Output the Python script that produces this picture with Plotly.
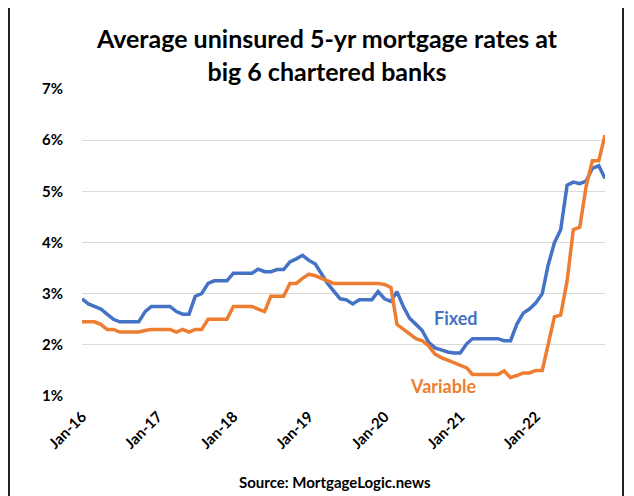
import pandas as pd
import plotly.graph_objects as go

FONT = "Lato, 'Open Sans', sans-serif"
BLUE = "#4472C4"
ORANGE = "#ED7D31"

months = pd.date_range("2016-01-01", "2022-12-01", freq="MS")

fixed = [
    2.90, 2.80, 2.75, 2.70, 2.60, 2.50, 2.45, 2.45, 2.45, 2.45, 2.65, 2.75,
    2.75, 2.75, 2.75, 2.65, 2.60, 2.60, 2.95, 3.00, 3.20, 3.25, 3.25, 3.25,
    3.40, 3.40, 3.40, 3.40, 3.48, 3.43, 3.43, 3.47, 3.47, 3.62, 3.68, 3.75,
    3.65, 3.58, 3.40, 3.20, 3.05, 2.90, 2.88, 2.80, 2.88, 2.88, 2.88, 3.04,
    2.90, 2.85, 3.04, 2.75, 2.52, 2.40, 2.28, 2.05, 1.94, 1.90, 1.86, 1.84,
    1.84, 2.02, 2.12, 2.12, 2.12, 2.12, 2.12, 2.08, 2.08, 2.40, 2.62, 2.70,
    2.82, 3.00, 3.55, 4.00, 4.25, 5.12, 5.18, 5.15, 5.20, 5.45, 5.50, 5.25,
]

variable = [
    2.45, 2.45, 2.45, 2.40, 2.30, 2.30, 2.25, 2.25, 2.25, 2.25, 2.28, 2.30,
    2.30, 2.30, 2.30, 2.25, 2.30, 2.25, 2.30, 2.30, 2.50, 2.50, 2.50, 2.50,
    2.75, 2.75, 2.75, 2.75, 2.70, 2.65, 2.95, 2.95, 2.95, 3.20, 3.20, 3.30,
    3.38, 3.35, 3.30, 3.25, 3.20, 3.20, 3.20, 3.20, 3.20, 3.20, 3.20, 3.20,
    3.18, 3.12, 2.40, 2.30, 2.22, 2.12, 2.08, 1.98, 1.82, 1.75, 1.70, 1.65,
    1.60, 1.55, 1.42, 1.42, 1.42, 1.42, 1.42, 1.49, 1.36, 1.40, 1.45, 1.45,
    1.50, 1.50, 2.02, 2.55, 2.58, 3.25, 4.25, 4.30, 5.10, 5.60, 5.60, 6.10,
]

year_ticks = pd.date_range("2016-01-01", "2022-01-01", freq="YS")

# page body has an 8px margin, so the figure is drawn 8px in from the corner
W, H = 626, 488

fig = go.Figure()
fig.add_trace(go.Scatter(x=months, y=fixed, mode="lines", name="Fixed",
                         line=dict(color=BLUE, width=3.5)))
fig.add_trace(go.Scatter(x=months, y=variable, mode="lines", name="Variable",
                         line=dict(color=ORANGE, width=3.5)))

fig.update_layout(
    width=W,
    height=H,
    paper_bgcolor="white",
    plot_bgcolor="white",
    showlegend=False,
    font=dict(family=FONT, color="black"),
    margin=dict(l=74, r=29, t=81, b=100),
    title=dict(
        text="<b>Average uninsured 5-yr mortgage rates at<br>big 6 chartered banks</b>",
        x=(327 - 8) / W, xref="container", xanchor="center",
        y=1 - (48 - 8) / H, yanchor="middle",
        font=dict(size=25, family=FONT, color="black"),
    ),
    xaxis=dict(
        range=[months[0], months[-1]],
        tickvals=year_ticks,
        tickformat="%b-%y",
        tickangle=-45,
        showgrid=False,
        showline=False,
        zeroline=False,
        ticklabelstandoff=8,
        tickfont=dict(size=15, family=FONT, color="black", weight="bold"),
    ),
    yaxis=dict(
        range=[1, 7],
        dtick=1,
        ticksuffix="%",
        showgrid=True,
        gridcolor="#d9d9d9",
        gridwidth=1,
        zeroline=False,
        showline=False,
        ticklabelstandoff=18,
        tickfont=dict(size=15, family=FONT, color="black", weight="bold"),
    ),
)

fig.add_annotation(text="<b>Fixed</b>", x=(456 - 82) / 523, y=(396 - 318) / 307,
                   xref="paper", yref="paper", showarrow=False,
                   xanchor="center", yanchor="middle",
                   font=dict(size=18, color=BLUE, family=FONT))
fig.add_annotation(text="<b>Variable</b>", x=(443 - 82) / 523, y=(396 - 386) / 307,
                   xref="paper", yref="paper", showarrow=False,
                   xanchor="center", yanchor="middle",
                   font=dict(size=18, color=ORANGE, family=FONT))
fig.add_annotation(text="<b>Source: MortgageLogic.news</b>", x=(335 - 82) / 523,
                   y=(396 - 482) / 307, xref="paper", yref="paper", showarrow=False,
                   xanchor="center", yanchor="middle",
                   font=dict(size=15, color="black", family=FONT))

# frame around the chart (image is cropped at the bottom)
fig.add_shape(type="rect", xref="paper", yref="paper",
              x0=(9 - 82) / 523, x1=(623 - 82) / 523,
              y0=(396 - 505) / 307, y1=(396 - 5) / 307,
              line=dict(color="#222222", width=2))

fig.write_html("out.html")
